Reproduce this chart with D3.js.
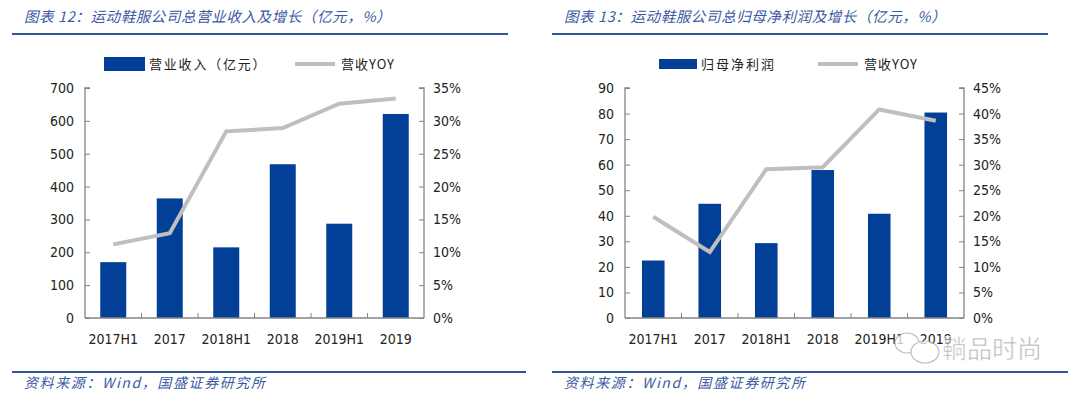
<!DOCTYPE html>
<html lang="zh-CN">
<head>
<meta charset="utf-8">
<title>运动鞋服公司</title>
<script src="https://cdn.jsdelivr.net/npm/d3@7"></script>
<style>
  body { margin: 0; background: #fff; }
  #chart { width: 1080px; height: 394px; }
  .tick text { font-family: "DejaVu Sans Condensed", "DejaVu Sans", sans-serif; font-stretch: condensed; font-size: 14px; fill: #222; }
  .cjk { font-family: "Noto Sans CJK SC", sans-serif; }
</style>
</head>
<body>
<div id="chart"></div>
<script>
// 数据
const categories = ["2017H1", "2017", "2018H1", "2018", "2019H1", "2019"];
const revenue = [170, 364, 215, 468, 287, 621];          // 营业收入（亿元）
const revenueYoy = [11.2, 12.9, 28.4, 28.9, 32.6, 33.4]; // 营收YOY %
const profit = [22.5, 44.7, 29.3, 57.9, 40.8, 80.4];     // 归母净利润（亿元）
const profitYoy = [19.8, 12.9, 29.1, 29.5, 40.8, 38.6];  // YOY %

const revenueTicks = [0, 100, 200, 300, 400, 500, 600, 700];
const revenuePctTicks = [0, 5, 10, 15, 20, 25, 30, 35];
const profitTicks = [0, 10, 20, 30, 40, 50, 60, 70, 80, 90];
const profitPctTicks = [0, 5, 10, 15, 20, 25, 30, 35, 40, 45];

const barColor = "#023f96";
const lineColor = "#bfbfbf";
const titleColor = "#3a5aa3";
const ruleColor = "#2f5597";

const svg = d3.select("#chart").append("svg")
  .attr("width", 1080).attr("height", 394);

function panel(opt) {
  const g = svg.append("g").attr("transform", `translate(${opt.ox},0)`);

  // 标题
  g.append("text").attr("class", "cjk")
    .attr("x", 24).attr("y", 22)
    .attr("font-size", 14.5).attr("font-style", "italic")
    .attr("letter-spacing", 0.6)
    .attr("fill", titleColor)
    .text(opt.title);
  g.append("line").attr("x1", 12).attr("x2", opt.ruleEnd).attr("y1", 34).attr("y2", 34)
    .attr("stroke", ruleColor).attr("stroke-width", 2);

  // 底部
  g.append("line").attr("x1", 12).attr("x2", opt.bottomEnd).attr("y1", 372).attr("y2", 372)
    .attr("stroke", ruleColor).attr("stroke-width", 2);
  g.append("text").attr("class", "cjk")
    .attr("x", 24).attr("y", 388)
    .attr("font-size", 14).attr("font-style", "italic")
    .attr("letter-spacing", 1.6)
    .attr("fill", titleColor)
    .text("资料来源：Wind，国盛证券研究所");

  const left = 85, right = 424, top = 88, bottom = 318;

  const x = d3.scaleBand().domain(categories).range([left, right]);
  const y = d3.scaleLinear().domain([0, d3.max(opt.leftTicks)]).range([bottom, top]);
  const y2 = d3.scaleLinear().domain([0, d3.max(opt.rightTicks)]).range([bottom, top]);

  // 柱
  const bw = x.bandwidth() * opt.barRatio;
  g.selectAll("rect.bar").data(opt.bars).enter().append("rect")
    .attr("class", "bar")
    .attr("x", (d, i) => x(categories[i]) + (x.bandwidth() - bw) / 2)
    .attr("width", bw)
    .attr("y", d => y(d))
    .attr("height", d => bottom - y(d))
    .attr("fill", barColor);

  // 轴
  const axisColor = "#858585";
  const ya = g.append("g").attr("transform", `translate(${left},0)`)
    .call(d3.axisRight(y).tickValues(opt.leftTicks).tickSize(5).tickFormat(d3.format("d")));
  ya.selectAll(".tick text").attr("x", -11).attr("text-anchor", "end");

  const yb = g.append("g").attr("transform", `translate(${right},0)`)
    .call(d3.axisLeft(y2).tickValues(opt.rightTicks).tickSize(5).tickFormat(d => d + "%"));
  yb.selectAll(".tick text").attr("x", 9).attr("text-anchor", "start");

  const xa = g.append("g").attr("transform", `translate(0,${bottom})`)
    .call(d3.axisBottom(x).tickSize(0));
  xa.selectAll(".tick text").attr("y", 16).attr("dy", "0.71em");
  // 分类间刻度
  xa.selectAll("line.sep").data(categories.slice(1)).enter().append("line")
    .attr("class", "sep")
    .attr("x1", d => x(d)).attr("x2", d => x(d))
    .attr("y1", 0).attr("y2", -5)
    .attr("stroke", axisColor);

  [ya, yb, xa].forEach(a => {
    a.select(".domain").attr("stroke", axisColor).attr("stroke-width", 1.3);
    a.selectAll(".tick line").attr("stroke", axisColor);
  });
  ya.select(".domain").attr("d", `M5,${top}H0V${bottom}`);
  yb.select(".domain").attr("d", `M-5,${top}H0V${bottom}`);
  xa.select(".domain").attr("d", `M${left},0H${right}`);

  // 折线
  const line = d3.line()
    .x((d, i) => x(categories[i]) + x.bandwidth() / 2)
    .y(d => y2(d));
  g.append("path").datum(opt.yoy)
    .attr("d", line)
    .attr("fill", "none")
    .attr("stroke", lineColor)
    .attr("stroke-width", 4);

  // 图例
  const lg = opt.legend;
  g.append("rect").attr("x", lg.rx).attr("y", lg.ry).attr("width", lg.rw).attr("height", lg.rh)
    .attr("fill", barColor);
  g.append("text").attr("class", "cjk")
    .attr("x", lg.rx + lg.rw + 4).attr("y", 64).attr("dy", "0.35em")
    .attr("font-size", 13).attr("letter-spacing", lg.ls).attr("fill", "#222")
    .text(opt.barName);
  g.append("line").attr("x1", lg.lx).attr("x2", lg.lx + 40).attr("y1", 64).attr("y2", 64)
    .attr("stroke", lineColor).attr("stroke-width", 4);
  g.append("text").attr("class", "cjk")
    .attr("x", lg.lx + 46).attr("y", 64).attr("dy", "0.35em")
    .attr("font-size", 13).attr("letter-spacing", 1).attr("fill", "#222")
    .text("营收YOY");
}

panel({
  ox: 0,
  title: "图表 12：运动鞋服公司总营业收入及增长（亿元，%）",
  ruleEnd: 508, bottomEnd: 526,
  bars: revenue, yoy: revenueYoy,
  leftTicks: revenueTicks, rightTicks: revenuePctTicks,
  barRatio: 0.46,
  barName: "营业收入（亿元）",
  legend: { rx: 104, ry: 57, rw: 41, rh: 14, ls: 1.8, lx: 295 }
});

panel({
  ox: 540,
  title: "图表 13：运动鞋服公司总归母净利润及增长（亿元，%）",
  ruleEnd: 508, bottomEnd: 528,
  bars: profit, yoy: profitYoy,
  leftTicks: profitTicks, rightTicks: profitPctTicks,
  barRatio: 0.40,
  barName: "归母净利润",
  legend: { rx: 119, ry: 59, rw: 38, rh: 10, ls: 2, lx: 278 }
});

// 水印
const wm = svg.append("g").attr("opacity", 0.75);
wm.append("ellipse").attr("cx", 907).attr("cy", 343).attr("rx", 12).attr("ry", 10)
  .attr("fill", "#fff").attr("stroke", "#aaa").attr("stroke-width", 1.2);
wm.append("ellipse").attr("cx", 925).attr("cy", 352).attr("rx", 14).attr("ry", 11)
  .attr("fill", "#fff").attr("stroke", "#aaa").attr("stroke-width", 1.2);
wm.append("text").attr("class", "cjk")
  .attr("x", 942).attr("y", 358)
  .attr("font-size", 25).attr("fill", "#9a9a9a")
  .attr("stroke", "#fff").attr("stroke-width", 0.6)
  .text("鞝品时尚");
</script>
</body>
</html>
